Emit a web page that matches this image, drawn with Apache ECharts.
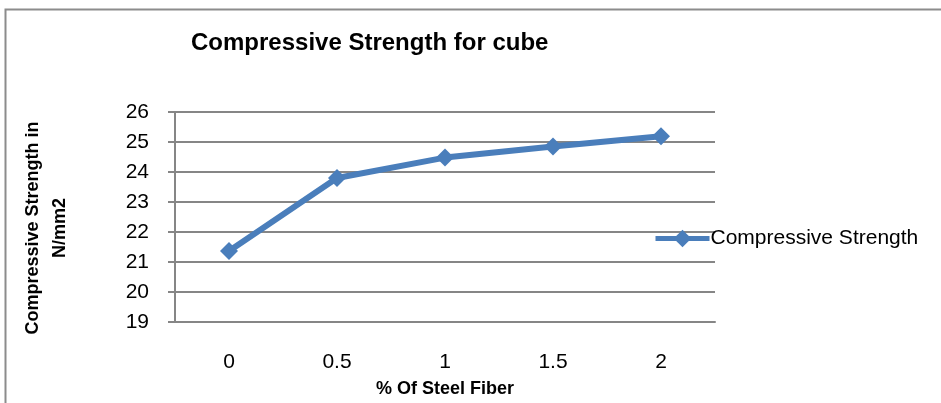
<!DOCTYPE html>
<html><head><meta charset="utf-8">
<script src="https://cdn.jsdelivr.net/npm/echarts@6/dist/echarts.min.js"></script>
<style>html,body{margin:0;padding:0;background:#fff}#c{width:941px;height:403px}</style>
</head><body><div id="c"></div>
<script>
var categories = ['0', '0.5', '1', '1.5', '2'];
var strengthValues = [21.37, 23.8, 24.48, 24.85, 25.19];
var seriesName = 'Compressive Strength';
var yAxisTitle = 'Compressive Strength in\nN/mm2';
var yMin = 19, yMax = 26, yStep = 1;

var chart = echarts.init(document.getElementById('c'), null, {renderer: 'canvas'});
var labelFont = 'Liberation Sans, sans-serif';
chart.setOption({
  backgroundColor: '#fff',
  animation: false,
  graphic: [{
    type: 'rect', shape: {x: 5.5, y: 9.5, width: 960, height: 420},
    style: {fill: 'none', stroke: '#8c8c8c', lineWidth: 2}, silent: true
  }, {
    type: 'text', x: 47, y: 228, rotation: Math.PI / 2, silent: true,
    style: {text: yAxisTitle, fontFamily: labelFont, fontWeight: 'bold', fontSize: 18,
      lineHeight: 27, fill: '#000', align: 'center', verticalAlign: 'middle'}
  }],
  title: {
    text: 'Compressive Strength for cube',
    left: 186, top: 26,
    textStyle: {fontFamily: labelFont, fontWeight: 'bold', fontSize: 24, color: '#000'}
  },
  legend: {
    data: [seriesName], left: 648, top: 223, itemWidth: 54, itemHeight: 22, itemGap: 4,
    lineStyle: {width: 5},
    textStyle: {fontFamily: labelFont, fontSize: 21, color: '#000', padding: [0,0,0,-4]}
  },
  grid: {left: 175, right: 226, top: 112, bottom: 80},
  xAxis: {
    type: 'category', data: categories, boundaryGap: true,
    name: '% Of Steel Fiber', nameLocation: 'middle', nameGap: 58,
    nameTextStyle: {fontFamily: labelFont, fontWeight: 'bold', fontSize: 18, color: '#000'},
    axisLine: {lineStyle: {color: '#868686', width: 2}},
    axisTick: {show: false},
    axisLabel: {fontFamily: labelFont, fontSize: 21, color: '#000', margin: 30}
  },
  yAxis: {
    type: 'value', min: yMin, max: yMax, interval: yStep,
    axisLine: {show: true, lineStyle: {color: '#868686', width: 2}},
    axisTick: {show: true, length: 7, lineStyle: {color: '#868686', width: 2}},
    splitLine: {lineStyle: {color: '#868686', width: 2}},
    axisLabel: {fontFamily: labelFont, fontSize: 21, color: '#000', margin: 26}
  },
  series: [{
    name: seriesName, type: 'line', data: strengthValues,
    symbol: 'diamond', symbolSize: 18,
    lineStyle: {color: '#4a7ebb', width: 6},
    itemStyle: {color: '#4a7ebb'}
  }]
});
</script></body></html>
